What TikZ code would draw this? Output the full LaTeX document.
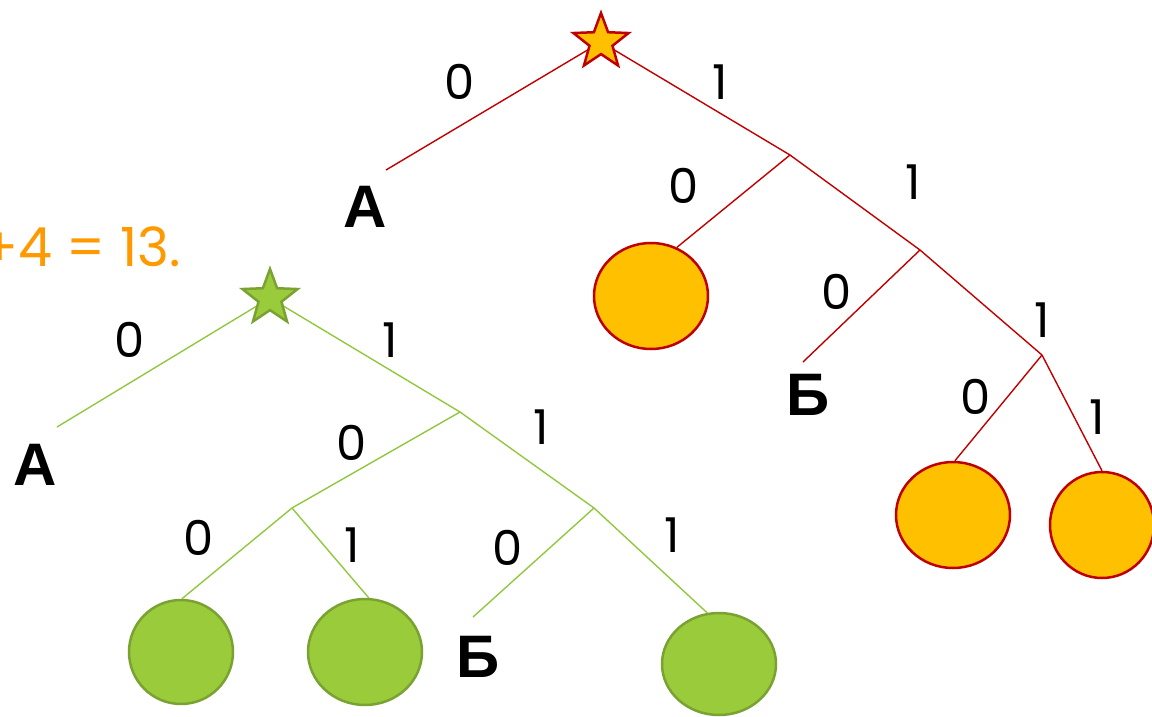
\documentclass[tikz,border=0pt]{standalone}
\usepackage{fontspec}
\setmainfont{Poppins}
\newfontfamily\letterfont{Liberation Sans}
\usetikzlibrary{shapes.geometric,backgrounds}
\definecolor{tred}{HTML}{C00000}
\definecolor{torange}{HTML}{FFC000}
\definecolor{tgreenfill}{HTML}{9ACB3A}
\definecolor{tgreenline}{HTML}{7AA232}
\definecolor{tgreenedge}{HTML}{92C840}
\definecolor{ttext}{HTML}{FF9900}
\tikzset{
  redleaf/.style={ellipse, draw=tred, fill=torange, line width=2.5pt, inner sep=0pt},
  greenleaf/.style={ellipse, draw=tgreenline, fill=tgreenfill, line width=2.5pt, inner sep=0pt},
  redstar/.style={star, star points=5, star point ratio=2.4, minimum size=58pt, draw=tred, fill=torange, line width=2.5pt, inner sep=0pt},
  greenstar/.style={star, star points=5, star point ratio=2.4, minimum size=58pt, draw=tgreenline, fill=tgreenfill, line width=2.5pt, inner sep=0pt},
  rededge/.style={draw=tred, line width=1.4pt},
  greenedge/.style={draw=tgreenedge, line width=1.4pt},
  bit/.style={font=\fontsize{48}{48}\selectfont, inner sep=0pt},
  sumtext/.style={font=\fontsize{54}{54}\selectfont, inner sep=0pt, text=ttext},
  letter/.style={font=\fontsize{60}{60}\selectfont\letterfont\bfseries, inner sep=0pt},
}
\begin{document}
\begin{tikzpicture}[x=1pt,y=-1pt]
\useasboundingbox (0,0) rectangle (1152,717);
% ---------- red tree ----------
\node[redstar] (rs) at (601,42) {};
\coordinate (r1) at (790,155);
\coordinate (r2) at (920,250);
\coordinate (r3) at (1042,355);
\coordinate (rA) at (386,170);
\coordinate (rB) at (803,362);
\node[redleaf, minimum width=114pt, minimum height=106pt] (rc1) at (651,296) {};
\node[redleaf, minimum width=114pt, minimum height=106pt] (rc2) at (953,515) {};
\node[redleaf, minimum width=104pt, minimum height=106pt] (rc3) at (1102,525) {};
% ---------- green tree ----------
\node[greenstar] (gs) at (270,298) {};
\coordinate (g1) at (460,412);
\coordinate (g2) at (292,508);
\coordinate (g3) at (594,508);
\coordinate (gA) at (57,427);
\coordinate (gB) at (473,617);
\node[greenleaf, minimum width=104pt, minimum height=104pt] (gc1) at (181,652) {};
\node[greenleaf, minimum width=114pt, minimum height=106pt] (gc2) at (365,652) {};
\node[greenleaf, minimum width=114pt, minimum height=102pt] (gc3) at (719,664) {};
\begin{scope}[on background layer]
  \draw[rededge] (rs.center) -- (rA);
  \draw[rededge] (rs.center) -- (r1);
  \draw[rededge] (r1) -- (rc1.62);
  \draw[rededge] (r1) -- (r2);
  \draw[rededge] (r2) -- (rB);
  \draw[rededge] (r2) -- (r3);
  \draw[rededge] (r3) -- (rc2.88);
  \draw[rededge] (r3) -- (rc3.90);
  \draw[greenedge] (gs.center) -- (gA);
  \draw[greenedge] (gs.center) -- (g1);
  \draw[greenedge] (g1) -- (g2);
  \draw[greenedge] (g1) -- (g3);
  \draw[greenedge] (g2) -- (gc1.89);
  \draw[greenedge] (g2) -- (gc2.86);
  \draw[greenedge] (g3) -- (gB);
  \draw[greenedge] (g3) -- (gc3.103);
\end{scope}
% ---------- labels red ----------
\node[bit] (lr1) at (460,82) {0};
\node[bit] (lr2) at (720,82) {1};
\node[letter] (lrA) at (365,207) {А};
\node[bit] (lr3) at (684,186) {0};
\node[bit] (lr4) at (913,182) {1};
\node[bit] (lr5) at (837,292) {0};
\node[bit] (lr6) at (1042,320) {1};
\node[letter] (lrB) at (808,395) {Б};
\node[bit] (lr7) at (976,397) {0};
\node[bit] (lr8) at (1097,417) {1};
% ---------- labels green ----------
\node[bit] (lg1) at (130,340) {0};
\node[bit] (lg2) at (390,340) {1};
\node[letter] (lgA) at (35,465) {А};
\node[bit] (lg3) at (352,443) {0};
\node[bit] (lg4) at (541,427) {1};
\node[bit] (lg5) at (199,538) {0};
\node[bit] (lg6) at (352,545) {1};
\node[bit] (lg7) at (508,548) {0};
\node[bit] (lg8) at (672,535) {1};
\node[letter] (lgB) at (478,657) {Б};
% ---------- orange text ----------
\node[sumtext, anchor=east] (sum) at (181,247) {+4 = 13.};
\end{tikzpicture}
\end{document}
